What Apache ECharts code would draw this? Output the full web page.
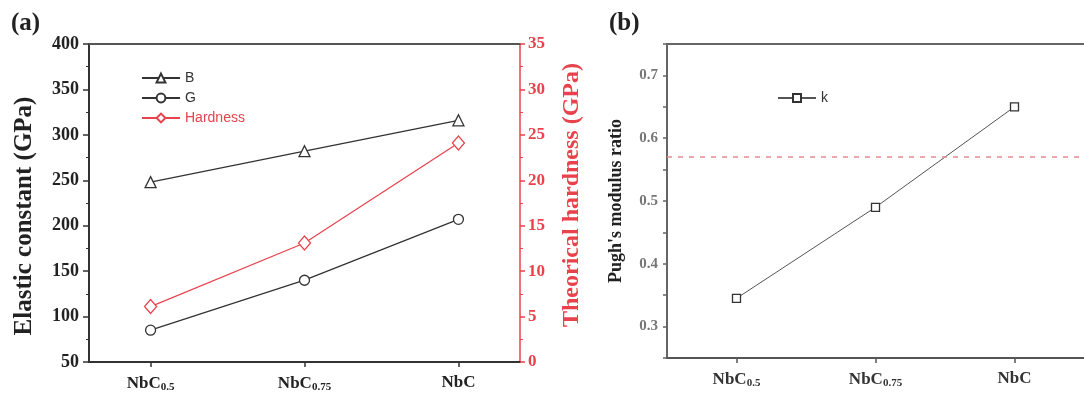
<!DOCTYPE html>
<html>
<head>
<meta charset="utf-8">
<script src="https://cdn.jsdelivr.net/npm/echarts@6/dist/echarts.min.js"></script>
<style>
  html, body { margin: 0; padding: 0; background: #fff; }
  #main { width: 1084px; height: 399px; }
</style>
</head>
<body>
<div id="main"></div>
<script>
// data
var categories = ['NbC0.5', 'NbC0.75', 'NbC'];
var catPos = [0, 1, 2];
var bulkB = [248, 282, 316];
var shearG = [85, 140, 207];
var hardness = [6.1, 13.1, 24.1];
var pughK = [0.345, 0.49, 0.65];
var pughLimit = 0.571;

var serif = 'Liberation Serif';
var sans = 'Liberation Sans';

function pairs(vals) {
  return vals.map(function (v, i) { return [catPos[i], v]; });
}

// NbC0.5 -> NbC{s|0.5}
function catLabel(v) {
  var name = categories[Math.round(v)] || '';
  var m = name.match(/^NbC(.*)$/);
  return m && m[1] ? 'NbC{s|' + m[1] + '}' : name;
}

function xLabel(size, color) {
  return {
    customValues: catPos,
    formatter: catLabel,
    fontFamily: serif,
    fontWeight: 'bold',
    fontSize: size,
    color: color,
    margin: 12,
    rich: {
      s: { fontFamily: serif, fontWeight: 'bold', fontSize: size - 6, color: color, padding: [8, 0, 0, 0] }
    }
  };
}

var dark = '#333';
var red = '#e8424c';

var option = {
  animation: false,
  title: [
    { text: '(a)', left: 6, top: 6, textStyle: { fontFamily: serif, fontWeight: 'bold', fontSize: 25, color: '#222' } },
    { text: '(b)', left: 604, top: 6, textStyle: { fontFamily: serif, fontWeight: 'bold', fontSize: 25, color: '#222' } }
  ],
  grid: [
    { left: 89, top: 44, width: 431, height: 318 },
    { left: 667, top: 44, width: 423, height: 314 }
  ],
  legend: [
    {
      left: 136, top: 66, orient: 'vertical', itemGap: 6, itemWidth: 38, itemHeight: 11,
      textStyle: { fontFamily: sans, fontSize: 14, color: '#333' },
      data: ['B', 'G', { name: 'Hardness', textStyle: { color: red } }]
    },
    {
      left: 772, top: 86, itemWidth: 38, itemHeight: 10,
      textStyle: { fontFamily: sans, fontSize: 14, color: '#333' },
      data: ['k']
    }
  ],
  xAxis: [
    {
      gridIndex: 0, type: 'value', min: -0.4, max: 2.4,
      axisLine: { onZero: false, lineStyle: { color: dark, width: 2 } },
      axisTick: { customValues: catPos, length: 5, lineStyle: { color: dark, width: 1.5 } },
      axisLabel: xLabel(17, '#222'),
      splitLine: { show: false }
    },
    {
      gridIndex: 0, type: 'value', position: 'top', min: -0.4, max: 2.4,
      axisLine: { show: true, onZero: false, lineStyle: { color: '#555', width: 2 } },
      axisTick: { show: false }, axisLabel: { show: false }, splitLine: { show: false }
    },
    {
      gridIndex: 1, type: 'value', min: -0.5, max: 2.5,
      axisLine: { onZero: false, lineStyle: { color: '#555', width: 2 } },
      axisTick: { customValues: catPos, length: 5, lineStyle: { color: '#555', width: 1.5 } },
      axisLabel: xLabel(17, '#333'),
      splitLine: { show: false }
    },
    {
      gridIndex: 1, type: 'value', position: 'top', min: -0.5, max: 2.5,
      axisLine: { show: true, onZero: false, lineStyle: { color: '#666', width: 2 } },
      axisTick: { show: false }, axisLabel: { show: false }, splitLine: { show: false }
    }
  ],
  yAxis: [
    {
      gridIndex: 0, type: 'value', min: 50, max: 400, interval: 50,
      name: 'Elastic constant (GPa)', nameLocation: 'middle', nameRotate: 90, nameGap: 52,
      nameTextStyle: { fontFamily: serif, fontWeight: 'bold', fontSize: 25, color: '#222', padding: [0, 26, 0, 0] },
      axisLine: { show: true, onZero: false, lineStyle: { color: dark, width: 2 } },
      axisTick: { length: 6, lineStyle: { color: dark, width: 1.5 } },
      minorTick: { show: true, splitNumber: 2, length: 3, lineStyle: { color: dark } },
      axisLabel: { fontFamily: serif, fontWeight: 'bold', fontSize: 18, color: '#222', margin: 10 },
      splitLine: { show: false }
    },
    {
      gridIndex: 0, type: 'value', position: 'right', min: 0, max: 35, interval: 5,
      name: 'Theorical hardness (GPa)', nameLocation: 'middle', nameRotate: 90, nameGap: 40,
      nameTextStyle: { fontFamily: serif, fontWeight: 'bold', fontSize: 24, color: red, padding: [0, 0, 0, 16] },
      axisLine: { show: true, onZero: false, lineStyle: { color: red, width: 1.5 } },
      axisTick: { length: 5, lineStyle: { color: red, width: 1.5 } },
      minorTick: { show: true, splitNumber: 2, length: 3, lineStyle: { color: red } },
      axisLabel: { fontFamily: serif, fontWeight: 'bold', fontSize: 17, color: red, margin: 8 },
      splitLine: { show: false }
    },
    {
      gridIndex: 1, type: 'value', min: 0.25, max: 0.75, interval: 0.05,
      name: "Pugh's modulus ratio", nameLocation: 'middle', nameRotate: 90, nameGap: 42,
      nameTextStyle: { fontFamily: serif, fontWeight: 'bold', fontSize: 18, color: '#222' },
      axisLine: { show: true, onZero: false, lineStyle: { color: '#666', width: 2 } },
      axisTick: { length: 4, lineStyle: { color: '#666', width: 1.5 } },
      axisLabel: {
        fontFamily: serif, fontWeight: 'bold', fontSize: 15, color: '#777', margin: 9,
        formatter: function (v) {
          return Math.round(v * 100) % 10 === 0 ? v.toFixed(1) : '';
        }
      },
      splitLine: { show: false }
    }
  ],
  series: [
    {
      name: 'B', type: 'line', xAxisIndex: 0, yAxisIndex: 0, data: pairs(bulkB),
      symbol: 'triangle', symbolSize: 11,
      lineStyle: { color: dark, width: 1.3 },
      itemStyle: { color: '#fff', borderColor: dark, borderWidth: 1.3 }
    },
    {
      name: 'G', type: 'line', xAxisIndex: 0, yAxisIndex: 0, data: pairs(shearG),
      symbol: 'circle', symbolSize: 10,
      lineStyle: { color: dark, width: 1.3 },
      itemStyle: { color: '#fff', borderColor: dark, borderWidth: 1.3 }
    },
    {
      name: 'Hardness', type: 'line', xAxisIndex: 0, yAxisIndex: 1, data: pairs(hardness),
      symbol: 'diamond', symbolSize: [12, 14],
      lineStyle: { color: red, width: 1.2 },
      itemStyle: { color: '#fff', borderColor: red, borderWidth: 1.3 }
    },
    {
      name: 'k', type: 'line', xAxisIndex: 2, yAxisIndex: 2, data: pairs(pughK),
      symbol: 'rect', symbolSize: 8,
      lineStyle: { color: '#555', width: 1 },
      itemStyle: { color: '#fff', borderColor: '#333', borderWidth: 1.3 },
      markLine: {
        silent: true, symbol: 'none', label: { show: false },
        lineStyle: { color: '#e88a90', type: [5, 6], width: 1.5 },
        data: [{ yAxis: pughLimit }]
      }
    }
  ]
};

var chart = echarts.init(document.getElementById('main'));
chart.setOption(option);
</script>
</body>
</html>
